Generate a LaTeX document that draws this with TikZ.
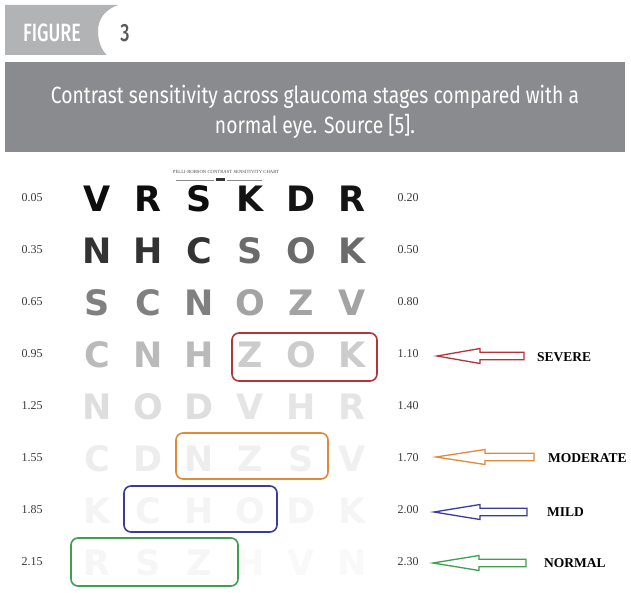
\documentclass[tikz,border=0pt]{standalone}
\usepackage{fontspec}
\usetikzlibrary{calc}
\setmainfont{Liberation Serif}
\newfontfamily\capfont[FakeStretch=0.82]{Fira Sans}
\newfontfamily\tabfont[FakeStretch=0.72]{Fira Sans Medium}
\newfontfamily\sloan{DejaVu Sans}
\definecolor{tabgray}{HTML}{B2B3B5}
\definecolor{bargray}{HTML}{8A8B8E}
\definecolor{numgray}{HTML}{58595B}
\definecolor{valgray}{HTML}{3A3A3A}
\definecolor{sred}{HTML}{B5343C}
\definecolor{sorange}{HTML}{E2893A}
\definecolor{sblue}{HTML}{3B3B9A}
\definecolor{sgreen}{HTML}{3E9E52}
\tikzset{
  val/.style={font=\fontsize{12}{12}\selectfont, text=valgray, inner sep=0pt, anchor=center},
  stage/.style={font=\fontsize{13.5}{13.5}\selectfont\bfseries, text=black, inner sep=0pt, anchor=west},
  chartletter/.style={font=\sloan\bfseries\fontsize{35}{35}\selectfont, inner sep=0pt, anchor=center},
  stagebox/.style={draw=#1, line width=1.6pt, rounded corners=7pt},
  blockarrow/.style={draw=#1, line width=1.3pt, line join=miter}
}
\newcommand{\blockarr}[4]{%
  \draw[blockarrow=#1] (#2) -- ($(#2)+(#3,-7.5)$) -- ($(#2)+(#3,-3.7)$) -- ($(#2)+(#4,-3.7)$)
    -- ($(#2)+(#4,3.7)$) -- ($(#2)+(#3,3.7)$) -- ($(#2)+(#3,7.5)$) -- cycle;}
\begin{document}
\begin{tikzpicture}[x=1pt,y=-1pt]
\useasboundingbox[fill=white] (0,0) rectangle (631,593);
% header tab
\fill[tabgray] (5,5) -- (118,5) .. controls (104,10) and (98,20) .. (98,31)
  .. controls (98,42) and (102,51) .. (107,55) -- (5,55) -- cycle;
\node[font=\tabfont\fontsize{25}{25}\selectfont, text=white, inner sep=0pt] (fig) at (52,33) {FIGURE};
\node[font=\tabfont\fontsize{25}{25}\selectfont, text=numgray, inner sep=0pt] (fignum) at (125,33) {3};
% caption bar
\fill[bargray] (5,62) rectangle (625,152);
\node[font=\capfont\fontsize{23.5}{30}\selectfont, text=white, align=center, inner sep=0pt] (cap) at (315,112)
  {Contrast sensitivity across glaucoma stages compared with a\\normal eye. Source [5].};
% chart title
\node[font=\fontsize{4.7}{4.7}\selectfont, text=black!70, inner sep=0pt] (ctitle) at (226,171.5) {PELLI-ROBSON CONTRAST SENSITIVITY CHART};
\draw[black!45, line width=0.4pt] (176,180.5) -- (214,180.5);
\fill[black!80] (216,178) rectangle (225,181);
\draw[black!45, line width=0.4pt] (227,180.5) -- (262,180.5);
% letters
\foreach \row/\ltrs/\ga/\gb [count=\r] in {
  1/{V,R,S,K,D,R}/95/92,
  2/{N,H,C,S,O,K}/80/58,
  3/{S,C,N,O,Z,V}/50/36,
  4/{C,N,H,Z,O,K}/27/20,
  5/{N,O,D,V,H,R}/13/10,
  6/{C,D,N,Z,S,V}/7/6,
  7/{K,C,H,O,D,K}/4.5/4,
  8/{R,S,Z,H,V,N}/3.5/2.5}{
  \foreach \ch [count=\c] in \ltrs {
    \pgfmathsetmacro{\gv}{\c<4 ? \ga : \gb}
    \node[chartletter, text=black!\gv] (L-\r-\c) at ({46+51*\c},{147+52*\r}) {\ch};
  }
}
% left values
\foreach \v [count=\r] in {0.05,0.35,0.65,0.95,1.25,1.55,1.85,2.15}
  \node[val] (lv-\r) at (32,{146+52*\r}) {\v};
% right values
\foreach \v [count=\r] in {0.20,0.50,0.80,1.10,1.40,1.70,2.00,2.30}
  \node[val] (rv-\r) at (408,{146+52*\r}) {\v};
% stage boxes
\draw[stagebox=sred] (232,333) rectangle (377,381);
\draw[stagebox=sorange] (176,433) rectangle (328,479);
\draw[stagebox=sblue] (124,486) rectangle (277,532);
\draw[stagebox=sgreen] (71,538) rectangle (238,586);
% arrows and labels
\coordinate (tipS) at (437,356);
\coordinate (tipMo) at (436,457);
\coordinate (tipMi) at (434,512);
\coordinate (tipN) at (433,563);
\blockarr{sred}{tipS}{43}{87}
\blockarr{sorange}{tipMo}{49}{98}
\blockarr{sblue}{tipMi}{46}{93}
\blockarr{sgreen}{tipN}{46}{93}
\node[stage] (sev) at (537,357) {SEVERE};
\node[stage] (mod) at (548,458) {MODERATE};
\node[stage] (mil) at (547,512) {MILD};
\node[stage] (nor) at (544,563) {NORMAL};
\end{tikzpicture}
\end{document}
